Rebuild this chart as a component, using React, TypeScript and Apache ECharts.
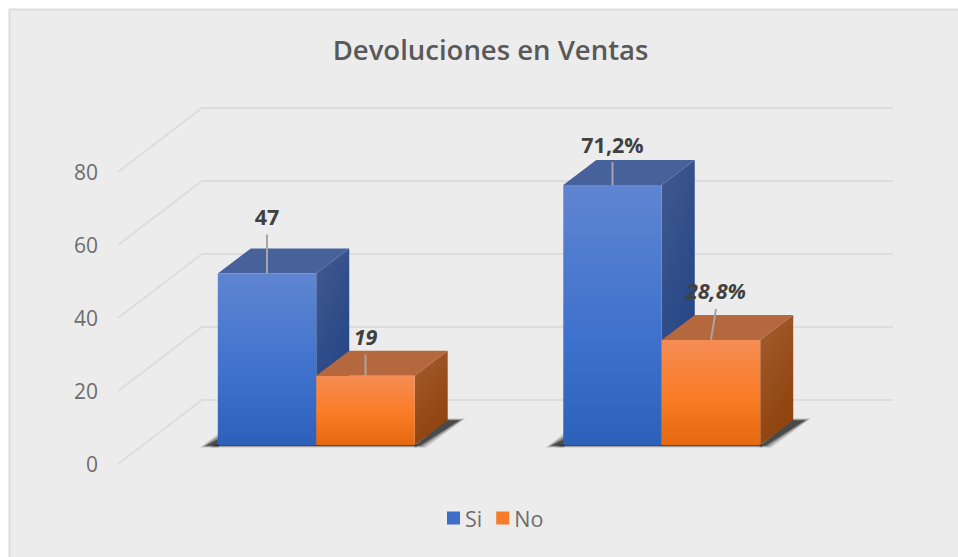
import React, { useEffect, useRef } from "react";
import * as echarts from "echarts";

const categories = ["Devoluciones", "Ventas"];
const seriesSi = [47, 71.2];
const seriesNo = [19, 28.8];
const labelsSi = ["47", "71,2%"];
const labelsNo = ["19", "28,8%"];
const yTicks = [0, 20, 40, 60, 80];

const FONT = '"Open Sans", sans-serif';
const WALL_DX = 84;
const WALL_DY = -64;
const BAR_OFF_X = 25.5;
const BAR_OFF_Y = -19;
const DEPTH_X = 33;
const DEPTH_Y = -25;
const BAR_FRACTION = 0.285;

const grad = (x2: number, y2: number, stops: [number, string][]) =>
  new echarts.graphic.LinearGradient(0, 0, x2, y2, stops.map(([offset, color]) => ({ offset, color })));

const blue = {
  front: () => grad(0, 1, [[0, "#5f85d1"], [0.6, "#3d71cd"], [1, "#2c60b9"]]),
  top: () => "#47619b",
  side: () => grad(0.4, 1, [[0, "#42598f"], [1, "#1f4284"]]),
};
const orange = {
  front: () => grad(0, 1, [[0, "#f58d54"], [0.55, "#fa7b25"], [1, "#e4690f"]]),
  top: () => "#b5683d",
  side: () => grad(0.4, 1, [[0, "#a35d30"], [1, "#8f430d"]]),
};

// hand-placed data label leaders, as in the reference: [leader length, lean]
const leaderSi = [[39, 0], [23, 0]];
const leaderNo = [[21, 0], [31, 5]];

function shadowParts(x0: number, right: number, base: number) {
  // soft edge: stacked translucent layers, widest and faintest first
  const layers = [
    { spread: 5, alpha: 0.14 },
    { spread: 3, alpha: 0.22 },
    { spread: 1, alpha: 0.35 },
    { spread: -1, alpha: 0.6 },
  ];
  const parts: any[] = [];
  layers.forEach(({ spread, alpha }) => {
    const fill = `rgba(40,40,40,${alpha})`;
    parts.push({
      type: "polygon",
      silent: true,
      shape: { points: [[x0 - 13 - spread, base + 1 + spread / 3], [x0 + 1, base - 7 - spread], [x0 + 1, base + 1 + spread / 3]] },
      style: { fill },
    });
    parts.push({
      type: "rect",
      silent: true,
      shape: { x: x0 - 2 - spread, y: base - 0.5, width: right - x0 + 4 + spread, height: 1.5 + Math.max(spread, 0) / 3 },
      style: { fill },
    });
    parts.push({
      type: "polygon",
      silent: true,
      shape: {
        points: [
          [right - 1, base + 1 + spread / 3],
          [right + DEPTH_X - 1, base + DEPTH_Y - spread / 3],
          [right + DEPTH_X + 13 + spread, base + DEPTH_Y - spread / 3],
          [right + 6 + spread, base + 1 + spread / 3],
        ],
      },
      style: { fill },
    });
  });
  return parts;
}

function box(api: any, side: "left" | "right", pal: any, leader: number[], label: string, italic: boolean, withShadow: boolean) {
  const i = api.value(0);
  const v = api.value(1);
  const w = api.size([1, 0])[0] * BAR_FRACTION;
  const c = api.coord([i, 0]);
  const t = api.coord([i, v]);
  const cx = c[0] + BAR_OFF_X;
  const base = c[1] + BAR_OFF_Y;
  const top = t[1] + BAR_OFF_Y;
  const x0 = side === "left" ? cx - w : cx;
  const x1 = x0 + w;
  const mid = (x0 + x1) / 2;
  const children: any[] = [];
  if (withShadow) children.push(...shadowParts(x0, cx + w, base));
  children.push(
    {
      type: "polygon",
      shape: { points: [[x1, top], [x1 + DEPTH_X, top + DEPTH_Y], [x1 + DEPTH_X, base + DEPTH_Y], [x1, base]] },
      style: { fill: pal.side() },
    },
    {
      type: "polygon",
      shape: { points: [[x0, top], [x0 + DEPTH_X, top + DEPTH_Y], [x1 + DEPTH_X, top + DEPTH_Y], [x1, top]] },
      style: { fill: pal.top() },
    },
    {
      type: "rect",
      shape: { x: x0, y: top, width: w, height: base - top },
      style: { fill: pal.front() },
    },
    {
      type: "line",
      shape: { x1: mid, y1: top, x2: mid + leader[1], y2: top - leader[0] },
      style: { stroke: "#a6a6a6", lineWidth: 2 },
    },
    {
      type: "text",
      style: {
        x: mid + leader[1],
        y: top - leader[0] - 18,
        text: label,
        align: "center",
        verticalAlign: "middle",
        fill: "#404040",
        font: `${italic ? "italic " : ""}bold 21.5px ${FONT}`,
      },
    }
  );
  return { type: "group", children };
}

export default function App() {
  const ref = useRef<HTMLDivElement>(null);
  useEffect(() => {
    document.body.style.margin = "0";
    document.body.style.background = "#ffffff";
    const chart = echarts.init(ref.current!, undefined, { renderer: "svg" });
    chart.setOption({
      animation: false,
      backgroundColor: "#ffffff",
      graphic: [
        {
          type: "rect",
          z: -10,
          shape: { x: 9.5, y: 9.5, width: 960, height: 560 },
          style: { fill: "#ececec", stroke: "#dcdcdc", lineWidth: 2 },
        },
      ],
      title: {
        text: "Devoluciones en Ventas",
        left: 485.5,
        top: 30.5,
        textAlign: "center",
        textStyle: { fontFamily: FONT, fontWeight: 600, fontSize: 27.5, color: "#595959" },
      },
      legend: {
        data: ["Si", "No"],
        left: 442,
        top: 502,
        icon: "rect",
        itemWidth: 13,
        itemHeight: 13,
        itemGap: 14,
        selectedMode: false,
        textStyle: { fontFamily: FONT, fontSize: 21.5, color: "#6e6e6e" },
      },
      grid: { left: 118, top: 172, right: 958 - 809, bottom: 557 - 464 },
      xAxis: {
        type: "category",
        data: categories,
        axisLine: { show: false },
        axisTick: { show: false },
        axisLabel: { show: false },
      },
      yAxis: {
        type: "value",
        min: 0,
        max: 80,
        interval: 20,
        axisLine: { show: false },
        axisTick: { show: false },
        splitLine: { show: false },
        axisLabel: { fontFamily: FONT, fontSize: 21, color: "#6e6e6e", margin: 20, padding: [0, 0, 3, 0] },
      },
      series: [
        {
          type: "custom",
          name: "grid",
          silent: true,
          z: 1,
          data: yTicks.map((t) => [0, t]),
          encode: { x: 0, y: 1 },
          renderItem: (params: any, api: any) => {
            const sys = params.coordSys;
            const y = api.coord([0, api.value(1)])[1];
            const style = { stroke: "#dddddd", lineWidth: 2, fill: "none" };
            return {
              type: "polyline",
              shape: {
                points: [
                  [sys.x, y],
                  [sys.x + WALL_DX, y + WALL_DY],
                  [sys.x + sys.width + WALL_DX, y + WALL_DY],
                ],
              },
              style,
            };
          },
        },
        {
          type: "custom",
          name: "Si",
          silent: true,
          z: 3,
          itemStyle: { color: "#3d6fc9" },
          data: seriesSi.map((v, i) => [i, v]),
          encode: { x: 0, y: 1 },
          renderItem: (params: any, api: any) =>
            box(api, "left", blue, leaderSi[params.dataIndex], labelsSi[params.dataIndex], false, true),
        },
        {
          type: "custom",
          name: "No",
          silent: true,
          z: 4,
          itemStyle: { color: "#f77b28" },
          data: seriesNo.map((v, i) => [i, v]),
          encode: { x: 0, y: 1 },
          renderItem: (params: any, api: any) =>
            box(api, "right", orange, leaderNo[params.dataIndex], labelsNo[params.dataIndex], true, false),
        },
      ],
    });
    return () => chart.dispose();
  }, []);
  return <div ref={ref} style={{ position: "fixed", left: 0, top: 0, width: 958, height: 557 }} />;
}
